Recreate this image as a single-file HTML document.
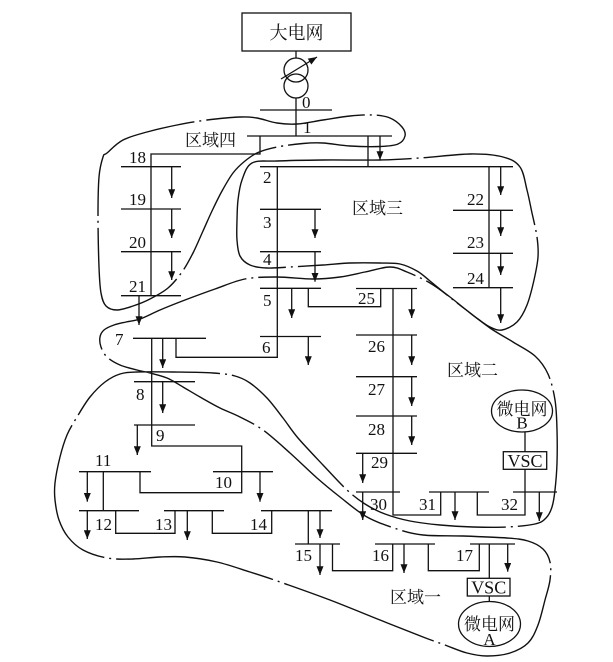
<!DOCTYPE html>
<html><head><meta charset="utf-8"><style>
html,body{margin:0;padding:0;background:#fff;}
svg{display:block;}
.n{font-family:"Liberation Serif","Noto Serif CJK SC",serif;font-size:17px;fill:#111;}
.c{font-family:"Liberation Serif","Noto Serif CJK SC","Noto Sans CJK SC",serif;font-size:17px;fill:#111;}
</style></head><body>
<svg width="613" height="662" viewBox="0 0 613 662" xmlns="http://www.w3.org/2000/svg">
<defs><marker id="a" viewBox="0 0 10 8" refX="10" refY="4" markerWidth="9" markerHeight="7" markerUnits="userSpaceOnUse" orient="auto"><path d="M0,0L10,4L0,8z" fill="#111" stroke="none"/></marker></defs>
<rect width="613" height="662" fill="#fff"/>
<g stroke="#111" stroke-width="1.3" fill="none">
<rect x="242" y="13" width="109" height="38"/>
<circle cx="296" cy="70" r="12"/><circle cx="296" cy="86" r="12"/>
<path d="M296,51V58M296,98V136"/>
<rect x="503.3" y="451.7" width="43.4" height="17.6"/>
<ellipse cx="522" cy="411" rx="30.5" ry="21"/>
<rect x="467.3" y="578.3" width="42.7" height="17.7"/>
<ellipse cx="489.5" cy="624" rx="31" ry="22.5"/>
<path d="M260,110H332M247,136H392
M121,166.7H181M121,209H181M121,251.7H181M121,295.7H181
M260,166.7H513M260,209.3H321M260,251.7H321M260,288.3H321M260,336.5H321
M453,210.3H513M453,253.3H513M453,287.7H513
M356,288.5H417M356,335H417M356,376.7H417M356,416H417M356,453.3H417
M356,492H400M429,492H489M513,492H557
M133,338.3H206M134,381.7H195M134,425H195M213,471.7H273M79,471.7H151
M79,510.7H139M164,510.7H224M261,510.7H332
M295,544H340M375,544H435M470,544H515"/>
<path d="M260,136V154H151V295.7
M368,136V166.7
M277.3,166.7V357.3H176V338.3
M489,166.7V287.7
M308.3,288.3V306.7H380.7V288.5
M393,288.5V515H440.7V492
M477.3,492V515H525V469.3
M525,431.7V451.7
M151.7,338.3V446H241.7V492.7H140V471.7
M103.3,471.7V510.7
M115.7,510.7V533.3H175V510.7
M212.3,510.7V533.3H271.7V510.7
M308.3,510.7V544
M332.5,544V570.7H392.7V544
M428.3,544V570.7H479.3V544
M489.3,544V578.3
M489.3,596V601.5"/>
</g>
<g stroke="#111" stroke-width="1.3" fill="none" marker-end="url(#a)">
<line x1="281" y1="79" x2="317" y2="57"/>
<line x1="380" y1="136" x2="380" y2="160"/>
<line x1="171.7" y1="166.7" x2="171.7" y2="198"/>
<line x1="171.7" y1="209" x2="171.7" y2="238"/>
<line x1="171.7" y1="251.7" x2="171.7" y2="280"/>
<line x1="139" y1="295.7" x2="139" y2="325"/>
<line x1="315" y1="209.3" x2="315" y2="238"/>
<line x1="315" y1="251.7" x2="315" y2="281.7"/>
<line x1="291.7" y1="288.3" x2="291.7" y2="318"/>
<line x1="308.3" y1="336.5" x2="308.3" y2="365"/>
<line x1="500.7" y1="166.7" x2="500.7" y2="195"/>
<line x1="500.7" y1="210.3" x2="500.7" y2="236"/>
<line x1="500.7" y1="253.3" x2="500.7" y2="275"/>
<line x1="500.7" y1="287.7" x2="500.7" y2="323"/>
<line x1="411.7" y1="288.5" x2="411.7" y2="318"/>
<line x1="411.7" y1="335" x2="411.7" y2="365"/>
<line x1="411.7" y1="376.7" x2="411.7" y2="406"/>
<line x1="411.7" y1="416" x2="411.7" y2="445"/>
<line x1="362.7" y1="453.3" x2="362.7" y2="483"/>
<line x1="362.7" y1="492" x2="362.7" y2="520"/>
<line x1="455" y1="492" x2="455" y2="520"/>
<line x1="539.3" y1="492" x2="539.3" y2="521"/>
<line x1="162.7" y1="338.3" x2="162.7" y2="368"/>
<line x1="162.7" y1="381.7" x2="162.7" y2="413"/>
<line x1="137.3" y1="425" x2="137.3" y2="455"/>
<line x1="260" y1="471.7" x2="260" y2="501.7"/>
<line x1="87.3" y1="471.7" x2="87.3" y2="501.7"/>
<line x1="87.3" y1="510.7" x2="87.3" y2="539"/>
<line x1="187.3" y1="510.7" x2="187.3" y2="540"/>
<line x1="320" y1="510.7" x2="320" y2="538"/>
<line x1="320" y1="544" x2="320" y2="575"/>
<line x1="404" y1="544" x2="404" y2="573"/>
<line x1="507.7" y1="544" x2="507.7" y2="571.7"/>
</g>
<g stroke="#111" stroke-width="1.4" fill="none" stroke-dasharray="160 5 2 5" stroke-linejoin="round">
<path class="sm" d="M98,216 L99,177 L103,157 L107,153 L123,140 L147,132 L177,125 L207,120 L240,117 L257,118 L277,123 L297,124 L323,120 L350,116 L373,115 L390,118 L402,127 L405,136 L398,144 L380,146.5 L350,146 L323,143 L303,143.5 L277,147 L258,152.5 L245,161 L233,173 L222,191 L212,211 L203,231 L193,253 L182,272 L168,288 L150,299 L133,306 L117,310 L106,306 L101,293 L99,267 Z"/>
<path class="sm" d="M252,163 L277,161 L323,160 L380,160 L420,158 L470,154 L503,157 L520,167 L527,190 L532,213 L537,237 L538,257 L534,280 L527,305 L517,322 L502,330 L490,327 L478,319 L465,309 L447,295 L430,281 L417,271 L400,264 L380,263 L350,263 L323,265 L290,267 L267,268 L250,265 L240,256 L237,240 L237,220 L238,200 L242,180 Z"/>
<path class="sm" d="M100,337 L104,330 L114,325 L126,322 L140,319 L160,310 L185,300 L215,289 L245,279 L277,277 L313,279 L340,277 L365,272 L390,267 L407,272 L430,283 L450,297 L465,309 L490,328 L513,342 L535,356 L548,374 L555,400 L557,430 L557,463 L555,490 L552,507 L546,518 L535,524 L507,527 L473,527 L440,525 L410,521 L385,514 L365,504 L347,490 L323,465 L298,438 L283,418 L267,398 L250,383 L235,376 L213,373 L173,372 L137,372 L120,374 L105,382 L90,397 L77,417 L67,435 L60,457 L55,483 L55,500 L59,520 L68,537 L83,550 L107,558 L133,559 L160,557 L185,557 L217,562 L250,572 L283,583 L330,600 L380,620 L423,637 L445,645 L467,653 L487,656 L510,653 L528,643 L538,625 L545,600 L550,580 L550,562 L543,549 L528,541 L507,538 L463,536 L423,535 L397,529 L367,517 L340,497 L317,478 L290,453 L263,430 L240,417 L220,408 L200,397 L183,387 L167,378 L150,373 L137,370 L120,365 L107,357 L101,347 Z"/>
</g>
<text class="c" x="296.5" y="39" text-anchor="middle" style="font-size:18px">大电网</text>
<text class="c" x="185" y="146">区域四</text>
<text class="c" x="352" y="214">区域三</text>
<text class="c" x="447" y="376">区域二</text>
<text class="c" x="390" y="603">区域一</text>
<text class="c" x="522" y="415" text-anchor="middle">微电网</text>
<text class="n" x="522" y="428.5" text-anchor="middle">B</text>
<text class="n" x="525" y="467" text-anchor="middle" style="font-size:18px">VSC</text>
<text class="c" x="489.5" y="630" text-anchor="middle">微电网</text>
<text class="n" x="489.5" y="645" text-anchor="middle">A</text>
<text class="n" x="488.7" y="593.5" text-anchor="middle" style="font-size:18px">VSC</text>
<text class="n" x="302" y="108">0</text>
<text class="n" x="303" y="133">1</text>
<text class="n" x="129" y="163">18</text>
<text class="n" x="129" y="205">19</text>
<text class="n" x="129" y="248">20</text>
<text class="n" x="129" y="292">21</text>
<text class="n" x="263" y="183">2</text>
<text class="n" x="263" y="228">3</text>
<text class="n" x="263" y="265">4</text>
<text class="n" x="263" y="306">5</text>
<text class="n" x="262" y="353">6</text>
<text class="n" x="115" y="345">7</text>
<text class="n" x="136" y="400">8</text>
<text class="n" x="156" y="441">9</text>
<text class="n" x="215" y="488">10</text>
<text class="n" x="95" y="466">11</text>
<text class="n" x="95" y="530">12</text>
<text class="n" x="155" y="530">13</text>
<text class="n" x="250" y="530">14</text>
<text class="n" x="295" y="561">15</text>
<text class="n" x="372" y="561">16</text>
<text class="n" x="456" y="561">17</text>
<text class="n" x="467" y="205">22</text>
<text class="n" x="467" y="248">23</text>
<text class="n" x="467" y="284">24</text>
<text class="n" x="358" y="304">25</text>
<text class="n" x="368" y="352">26</text>
<text class="n" x="368" y="395">27</text>
<text class="n" x="368" y="435">28</text>
<text class="n" x="371" y="468">29</text>
<text class="n" x="370" y="510">30</text>
<text class="n" x="419" y="510">31</text>
<text class="n" x="501" y="510">32</text>
</svg>
<script>
(function(){
var ps=document.querySelectorAll('path.sm');
for(var k=0;k<ps.length;k++){
 var d=ps[k].getAttribute('d');
 var nums=d.match(/-?\d+(\.\d+)?/g).map(Number);
 var P=[];for(var i=0;i+1<nums.length;i+=2)P.push([nums[i],nums[i+1]]);
 var n=P.length;if(n<4)continue;
 var s='M'+P[0][0]+','+P[0][1];
 for(var i=0;i<n;i++){
  var p0=P[(i-1+n)%n],p1=P[i],p2=P[(i+1)%n],p3=P[(i+2)%n];
  var c1x=p1[0]+(p2[0]-p0[0])/6,c1y=p1[1]+(p2[1]-p0[1])/6;
  var c2x=p2[0]-(p3[0]-p1[0])/6,c2y=p2[1]-(p3[1]-p1[1])/6;
  s+='C'+c1x.toFixed(1)+','+c1y.toFixed(1)+' '+c2x.toFixed(1)+','+c2y.toFixed(1)+' '+p2[0]+','+p2[1];
 }
 s+='Z';
 ps[k].setAttribute('d',s);
}
})();
</script>
</body></html>
